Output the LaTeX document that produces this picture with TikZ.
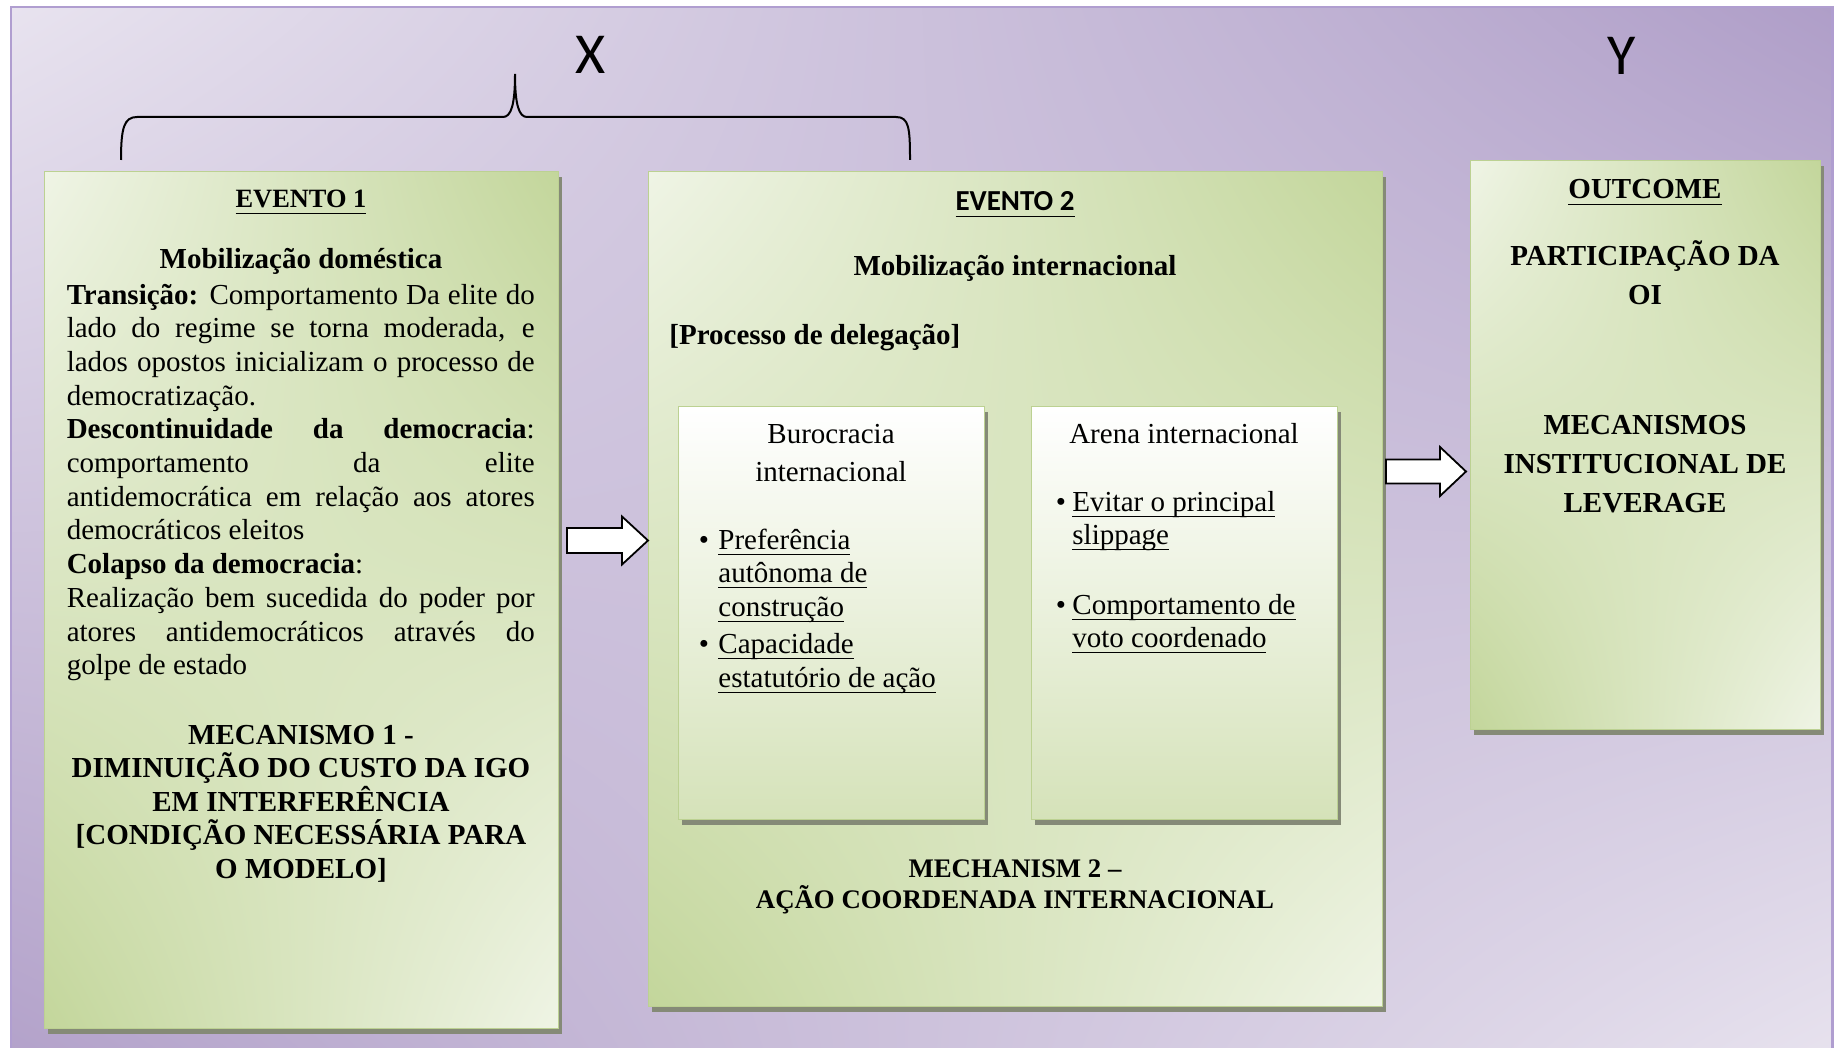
\documentclass[tikz,border=0pt]{standalone}
\usepackage{fontspec}
\setmainfont{Liberation Serif}
\newfontfamily\calibri{Carlito}
\usetikzlibrary{shadows,shadings}
\definecolor{bgUL}{HTML}{E8E3EF}
\definecolor{bgUR}{HTML}{AF9EC8}
\definecolor{bgLL}{HTML}{B3A2CA}
\definecolor{bgLR}{HTML}{E7E2EE}
\definecolor{framec}{HTML}{B09ED0}
\definecolor{gL}{HTML}{EFF4E5}
\definecolor{gD}{HTML}{C3D69B}
\definecolor{gborder}{HTML}{BCD192}
\definecolor{innerD}{HTML}{D5E2B9}
\definecolor{shadowc}{HTML}{858A77}
\newcommand\ul[1]{\underline{\raisebox{0pt}[\height][1.3pt]{#1}}}
\begin{document}
\begin{tikzpicture}[x=0.5pt,y=-0.5pt,
  gbox/.style={anchor=north west, inner sep=0pt, draw=gborder, line width=0.6pt,
    shade, upper left=gL, upper right=gD, lower left=gD, lower right=gL,
    general shadow={fill=shadowc, draw=none, shadow xshift=1.5pt, shadow yshift=-2.5pt}},
  ibox/.style={anchor=north west, inner sep=0pt, draw=gborder, line width=0.6pt,
    top color=white, bottom color=innerD,
    general shadow={fill=shadowc, draw=none, shadow xshift=1.5pt, shadow yshift=-2.5pt}},
  t/.style={inner sep=0pt, font=\fontsize{14.5}{17}\selectfont},
  tb/.style={inner sep=0pt, font=\bfseries\fontsize{14.5}{17}\selectfont},
  tbs/.style={inner sep=0pt, font=\bfseries\fontsize{13.4}{16}\selectfont},
  hd/.style={inner sep=0pt, font=\bfseries\fontsize{13.2}{15}\selectfont},
  hdc/.style={inner sep=0pt, font=\calibri\bfseries\fontsize{14.5}{17}\selectfont},
  lab/.style={inner sep=0pt, font=\calibri\fontsize{29}{30}\selectfont},
  brace/.style={draw=black, line width=1pt},
  blockarrow/.style={draw=black, fill=white, line width=0.9pt, line join=miter}
]
\useasboundingbox (0,0) rectangle (1835,1048);
\fill[white] (0,0) rectangle (1835,1048);
\shade[upper left=bgUL, upper right=bgUR, lower left=bgLL, lower right=bgLR] (11,7) rectangle (1832.5,1056);
\draw[framec, line width=1.4pt] (11,7) rectangle (1832.5,1056);

% labels X and Y
\node[lab] (X) at (591,55) {X};
\node[lab] (Y) at (1622,56) {Y};

% brace
\draw[brace] (121,160) .. controls (121,128) and (124,117) .. (137,117) -- (503,117)
  .. controls (511,117) and (515,105) .. (515,74)
  .. controls (515,105) and (519,117) .. (527,117) -- (896,117)
  .. controls (909,117) and (910,128) .. (910,160);

% boxes
\node[gbox, minimum width=257pt, minimum height=428.5pt] (b1) at (44,171) {};
\node[gbox, minimum width=367pt, minimum height=417.5pt] (b2) at (648,171) {};
\node[gbox, minimum width=175pt, minimum height=284.5pt] (b3) at (1470,160) {};
\node[ibox, minimum width=153pt, minimum height=206.5pt] (ia) at (678,406) {};
\node[ibox, minimum width=153pt, minimum height=206.5pt] (ib) at (1031,406) {};

% block arrows
\coordinate (a1s) at (567,540.5);
\coordinate (a1e) at (648,540.5);
\draw[blockarrow] (a1s) ++(0,-12.5) -- ++(55,0) -- ++(0,-11.5) -- (a1e) -- ++(-26,24) -- ++(0,-11.5) -- ++(-55,0) -- cycle;
\coordinate (a2s) at (1386,471.5);
\coordinate (a2e) at (1466,471.5);
\draw[blockarrow] (a2s) ++(0,-12) -- ++(54,0) -- ++(0,-12.5) -- (a2e) -- ++(-26,24.5) -- ++(0,-12.5) -- ++(-54,0) -- cycle;

% ---- Box 1 text
\node[hd, anchor=base] (e1) at (301,208) {\ul{EVENTO 1}};
\node[tb, anchor=base] (m1) at (301,269) {Mobilização doméstica};
\foreach \m/\t [count=\i] in {
  s/{\textbf{Transição:} Comportamento Da elite do},
  s/{lado do regime se torna moderada, e},
  s/{lados opostos inicializam o processo de},
  l/{democratização.},
  s/{\textbf{Descontinuidade da democracia}:},
  s/{comportamento da elite},
  s/{antidemocrática em relação aos atores},
  l/{democráticos eleitos},
  l/{\textbf{Colapso da democracia}:},
  s/{Realização bem sucedida do poder por},
  s/{atores antidemocráticos através do},
  l/{golpe de estado}}
  \node[t, anchor=base west] (p\i) at (66.4,{304+(\i-1)*33.7}) {\makebox[234pt][\m]{\t}};
\foreach \t [count=\i] in {{MECANISMO 1 -}, {DIMINUIÇÃO DO CUSTO DA IGO}, {EM INTERFERÊNCIA}, {{[}CONDIÇÃO NECESSÁRIA PARA}, {O MODELO]}}
  \node[tb, anchor=base] (k\i) at (301,{744+(\i-1)*33.65}) {\t};

% ---- Box 2 text
\node[hdc, anchor=base] (e2) at (1015,211) {\ul{EVENTO 2}};
\node[tb, anchor=base] (m2) at (1015,276) {Mobilização internacional};
\node[tb, anchor=base west] (pd) at (669,344) {[Processo de delegação]};

\node[t, anchor=base] (ia1) at (831,443) {Burocracia};
\node[t, anchor=base] (ia2) at (831,481) {internacional};
\node[t, anchor=base] (bua1) at (704,549) {•};
\node[t, anchor=base] (bua2) at (704,653) {•};
\foreach \t/\y [count=\i] in {Preferência/549, autônoma de/582, construção/616, Capacidade/653, estatutório de ação/687}
  \node[t, anchor=base west] (ba\i) at (718,\y) {\ul{\t}};

\node[t, anchor=base] (ib1) at (1184,443) {Arena internacional};
\node[t, anchor=base] (bub1) at (1061,511) {•};
\node[t, anchor=base] (bub2) at (1061,614) {•};
\foreach \t/\y [count=\i] in {Evitar o principal/511, slippage/544, Comportamento de/614, voto coordenado/647}
  \node[t, anchor=base west] (bb\i) at (1072,\y) {\ul{\t}};

\node[tbs, anchor=base] (mc1) at (1015,877) {MECHANISM 2 –};
\node[tbs, anchor=base] (mc2) at (1015,908) {AÇÃO COORDENADA INTERNACIONAL};

% ---- Box 3 text
\node[tb, anchor=base] (o0) at (1645,199) {\ul{OUTCOME}};
\node[tb, anchor=base] (o1) at (1645,265) {PARTICIPAÇÃO DA};
\node[tb, anchor=base] (o2) at (1645,304) {OI};
\node[tb, anchor=base] (o3) at (1645,434) {MECANISMOS};
\node[tb, anchor=base] (o4) at (1645,473) {INSTITUCIONAL DE};
\node[tb, anchor=base] (o5) at (1645,512) {LEVERAGE};
\end{tikzpicture}
\end{document}
